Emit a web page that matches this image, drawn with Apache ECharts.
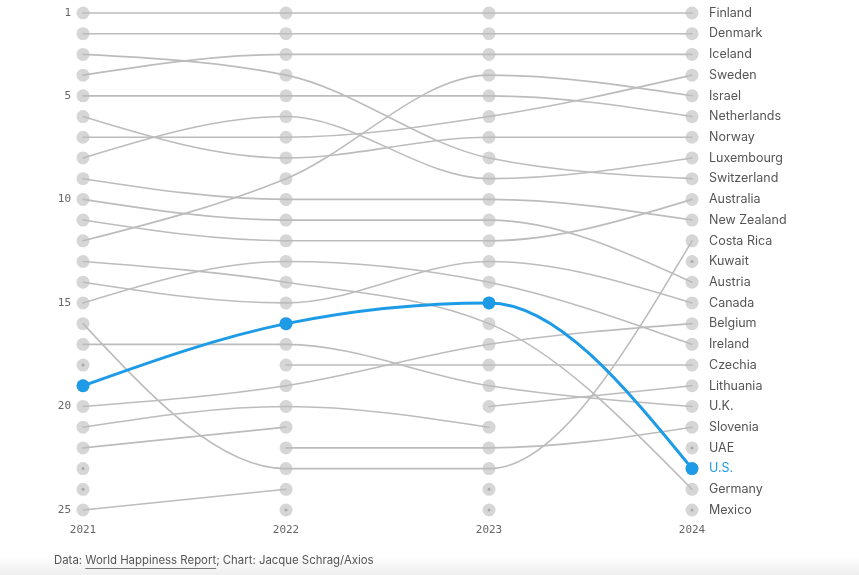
<!DOCTYPE html>
<html>
<head>
<meta charset="utf-8">
<script src="https://cdn.jsdelivr.net/npm/echarts@6/dist/echarts.min.js"></script>
<style>
html,body{margin:0;padding:0;background:#fff;}
#chart{width:859px;height:575px;}
</style>
</head>
<body>
<div id="chart"></div>
<script>
// ---- Data (rank order, position 0 = rank 1) ----
const years = ['2021', '2022', '2023', '2024'];
const rank2021 = ['Finland','Denmark','Switzerland','Iceland','Netherlands','Norway','Sweden','Luxembourg','New Zealand','Austria','Australia','Israel','Germany','Canada','Ireland','Costa Rica','U.K.','Czech Republic','U.S.','Belgium','France','Bahrain','Malta','Taiwan','UAE'];
const rank2022 = ['Finland','Denmark','Iceland','Switzerland','Netherlands','Luxembourg','Sweden','Norway','Israel','New Zealand','Austria','Australia','Ireland','Germany','Canada','U.S.','U.K.','Czechia','Belgium','France','Bahrain','Slovenia','Costa Rica','UAE','Saudi Arabia'];
const rank2023 = ['Finland','Denmark','Iceland','Israel','Netherlands','Sweden','Norway','Switzerland','Luxembourg','New Zealand','Austria','Australia','Canada','Ireland','U.S.','Germany','Belgium','Czechia','U.K.','Lithuania','France','Slovenia','Costa Rica','Romania','Singapore'];
const rank2024 = ['Finland','Denmark','Iceland','Sweden','Israel','Netherlands','Norway','Luxembourg','Switzerland','Australia','New Zealand','Costa Rica','Kuwait','Austria','Canada','Belgium','Ireland','Czechia','Lithuania','U.K.','Slovenia','UAE','U.S.','Germany','Mexico'];
const shownRankTicks = [1, 5, 10, 15, 20, 25];
const highlight = 'U.S.';

// ---- Build ----
const rankLists = [rank2021, rank2022, rank2023, rank2024];
const allCountries = [];
rankLists.forEach(list => list.forEach(c => { if (allCountries.indexOf(c) < 0) allCountries.push(c); }));
// draw highlighted country last
allCountries.sort((a, b) => (a === highlight) - (b === highlight));

const GREY_LINE = '#bcbcbc';
const GREY_DOT = '#d6d6d6';
const BLUE = '#1d9be6';

// runs of consecutive years per country: [[yearIdx, rank], ...]
const runsByCountry = allCountries.map(c => {
  const runs = [];
  let cur = [];
  rankLists.forEach((list, yi) => {
    const i = list.indexOf(c);
    if (i < 0) { if (cur.length) runs.push(cur); cur = []; }
    else cur.push([yi, i + 1]);
  });
  if (cur.length) runs.push(cur);
  return runs;
});

const gridDots = [];
rankLists.forEach((list, yi) => list.forEach((c, ri) => gridDots.push([yi, ri + 1])));
const isolated = [];
runsByCountry.forEach(runs => runs.forEach(r => { if (r.length === 1) isolated.push(r[0]); }));
const hlIdx = allCountries.indexOf(highlight);
const hlPoints = [].concat(...runsByCountry[hlIdx]);

// monotone-x cubic segments (as in d3.curveMonotoneX), in pixel space
function sgn(x) { return x < 0 ? -1 : 1; }
function monotoneSegments(p) {
  const n = p.length;
  if (n < 2) return [];
  if (n === 2) return [{ type: 'line', p0: p[0], p1: p[1] }];
  const h = [], s = [];
  for (let i = 0; i < n - 1; i++) { h.push(p[i + 1][0] - p[i][0]); s.push((p[i + 1][1] - p[i][1]) / h[i]); }
  const t = new Array(n);
  for (let i = 1; i < n - 1; i++) {
    const pp = (s[i - 1] * h[i] + s[i] * h[i - 1]) / (h[i - 1] + h[i]);
    t[i] = (sgn(s[i - 1]) + sgn(s[i])) * Math.min(Math.abs(s[i - 1]), Math.abs(s[i]), 0.5 * Math.abs(pp)) || 0;
  }
  t[0] = (3 * s[0] - t[1]) / 2;
  t[n - 1] = (3 * s[n - 2] - t[n - 2]) / 2;
  const segs = [];
  for (let i = 0; i < n - 1; i++) {
    const dx = h[i] / 3;
    segs.push({ type: 'bez', p0: p[i], p1: p[i + 1],
      c0: [p[i][0] + dx, p[i][1] + dx * t[i]], c1: [p[i + 1][0] - dx, p[i + 1][1] - dx * t[i + 1]] });
  }
  return segs;
}

const chart = echarts.init(document.getElementById('chart'), null, { renderer: 'canvas' });

const mc = document.createElement('canvas').getContext('2d');
const FOOT_FONT = '11.4px Inter';
mc.font = FOOT_FONT;
const preW = mc.measureText('Data: ').width;
const linkW = mc.measureText('World Happiness Report').width;

chart.setOption({
  backgroundColor: '#fff',
  animation: false,
  grid: { left: 83, right: 167, top: 13, bottom: 65 },
  xAxis: {
    type: 'category', data: years, boundaryGap: false,
    axisLine: { show: false }, axisTick: { show: false }, splitLine: { show: false },
    axisLabel: { fontFamily: 'DejaVu Sans Mono', fontSize: 11, color: '#666', margin: 15 }
  },
  yAxis: [{
    type: 'value', inverse: true, min: 1, max: 25, interval: 1,
    axisLine: { show: false }, axisTick: { show: false }, splitLine: { show: false },
    axisLabel: {
      fontFamily: 'DejaVu Sans Mono', fontSize: 11, color: '#666', margin: 12,
      formatter: v => shownRankTicks.indexOf(v) >= 0 ? String(v) : ''
    }
  }, {
    type: 'value', inverse: true, min: 1, max: 25, interval: 1, position: 'right',
    axisLine: { show: false }, axisTick: { show: false }, splitLine: { show: false },
    axisLabel: {
      fontFamily: 'Inter', fontSize: 12.5, color: '#555', margin: 17, align: 'left',
      formatter: v => {
        const n = rank2024[v - 1] || '';
        return n === highlight ? '{hl|' + n + '}' : n;
      },
      rich: { hl: { color: BLUE, fontFamily: 'Inter', fontSize: 12.5 } }
    }
  }],
  graphic: [
    { type: 'rect', left: 0, top: 555, shape: { width: 859, height: 20 }, z: -1, silent: true,
      style: { fill: new echarts.graphic.LinearGradient(0, 0, 0, 1, [{ offset: 0, color: 'rgba(240,240,240,0)' }, { offset: 1, color: '#eeeeee' }]) } },
    { type: 'text', left: 54, top: 555,
      style: { text: 'Data: World Happiness Report; Chart: Jacque Schrag/Axios', font: FOOT_FONT, fill: '#555' } },
    { type: 'rect', left: 54 + preW, top: 568, shape: { width: linkW, height: 1 }, style: { fill: '#777' } }
  ],
  series: [
    {
      type: 'scatter', data: gridDots, symbolSize: 13, z: 1, silent: true,
      itemStyle: { color: GREY_DOT, opacity: 1 }
    },
    {
      type: 'scatter', data: isolated, symbolSize: 3, z: 2, silent: true,
      itemStyle: { color: '#a8a8a8', opacity: 1 }
    },
    {
      type: 'custom', z: 3, silent: true, clip: false,
      data: allCountries.map((c, i) => [runsByCountry[i][0][0][0], runsByCountry[i][0][0][1], i]),
      encode: { x: 0, y: 1 },
      renderItem: (params, api) => {
        const ci = api.value(2);
        const hl = allCountries[ci] === highlight;
        const style = { stroke: hl ? BLUE : GREY_LINE, lineWidth: hl ? 3 : 1.6, fill: null, lineCap: 'round' };
        const children = [];
        runsByCountry[ci].forEach(run => {
          const pts = run.map(p => api.coord(p));
          monotoneSegments(pts).forEach(sg => {
            if (sg.type === 'line') {
              children.push({ type: 'line', shape: { x1: sg.p0[0], y1: sg.p0[1], x2: sg.p1[0], y2: sg.p1[1] }, style: style, z2: hl ? 10 : 1 });
            } else {
              children.push({ type: 'bezierCurve', shape: {
                x1: sg.p0[0], y1: sg.p0[1], x2: sg.p1[0], y2: sg.p1[1],
                cpx1: sg.c0[0], cpy1: sg.c0[1], cpx2: sg.c1[0], cpy2: sg.c1[1] }, style: style, z2: hl ? 10 : 1 });
            }
          });
        });
        return { type: 'group', children: children };
      }
    },
    {
      type: 'scatter', data: hlPoints, symbolSize: 13, z: 6, silent: true,
      itemStyle: { color: BLUE, opacity: 1 }
    }
  ]
});
</script>
</body>
</html>
